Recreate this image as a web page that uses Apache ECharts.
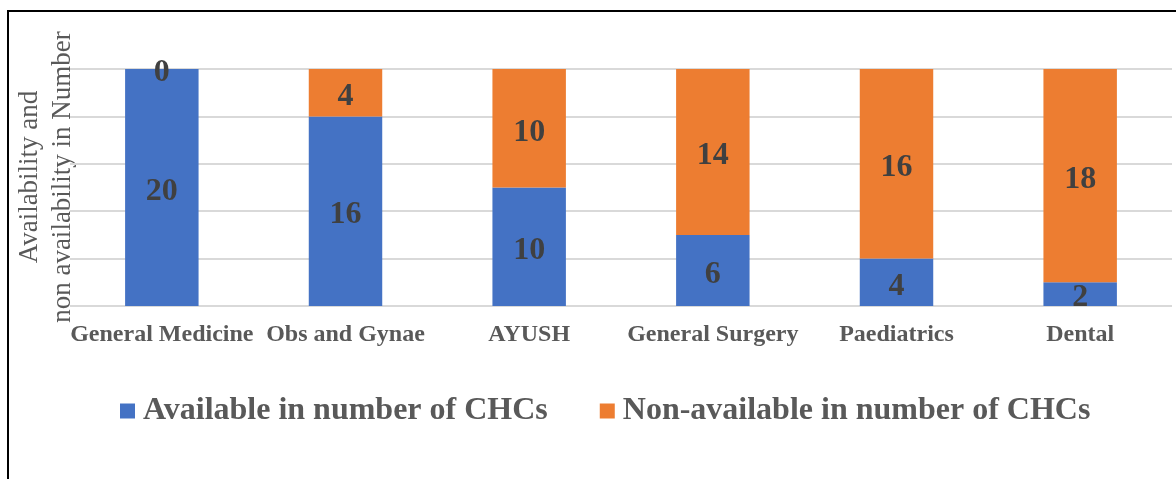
<!DOCTYPE html>
<html>
<head>
<meta charset="utf-8">
<script src="https://cdn.jsdelivr.net/npm/echarts@6/dist/echarts.min.js"></script>
<style>
  html, body { margin: 0; padding: 0; background: #fff; }
  #main { width: 1176px; height: 479px; }
</style>
</head>
<body>
<div id="main"></div>
<script>
const categories = ['General Medicine', 'Obs and Gynae', 'AYUSH', 'General Surgery', 'Paediatrics', 'Dental'];
const available = [20, 16, 10, 6, 4, 2];
const nonAvailable = [0, 4, 10, 14, 16, 18];
const seriesNames = ['Available in number of CHCs', 'Non-available in number of CHCs'];

const chart = echarts.init(document.getElementById('main'));
const serif = '"Liberation Serif", "Times New Roman", serif';

const labelStyle = {
  show: true,
  position: 'inside',
  offset: [0, 4],
  fontFamily: serif,
  fontWeight: 'bold',
  fontSize: 32,
  color: '#404040'
};

chart.setOption({
  animation: false,
  backgroundColor: '#fff',
  graphic: [
    {
      type: 'rect',
      shape: { x: 8, y: 11, width: 1300, height: 600 },
      style: { fill: 'none', stroke: '#000', lineWidth: 2 },
      silent: true
    },
    {
      type: 'text',
      x: 46, y: 177,
      rotation: Math.PI / 2,
      style: {
        text: 'Availability and\nnon availability in Number',
        fontFamily: serif,
        fontSize: 27,
        lineHeight: 33,
        fill: '#595959',
        align: 'center',
        verticalAlign: 'middle'
      }
    }
  ],
  legend: {
    top: 390,
    left: 115,
    itemWidth: 15,
    itemHeight: 15,
    itemGap: 52,
    icon: 'rect',
    textStyle: {
      fontFamily: serif,
      fontWeight: 'bold',
      fontSize: 32,
      color: '#595959',
      padding: [0, 0, 0, 3]
    },
    data: seriesNames
  },
  grid: {
    left: 70,
    right: 4,
    top: 69,
    bottom: 173,
    containLabel: false
  },
  xAxis: {
    type: 'category',
    data: categories,
    axisLine: { show: false },
    axisTick: { show: false },
    axisLabel: {
      interval: 0,
      margin: 17,
      fontFamily: serif,
      fontWeight: 'bold',
      fontSize: 24,
      color: '#595959'
    }
  },
  yAxis: {
    type: 'value',
    min: 0,
    max: 20,
    interval: 4,
    axisLabel: { show: false },
    axisLine: { show: false },
    axisTick: { show: false },
    splitLine: { lineStyle: { color: '#D9D9D9', width: 2 } }
  },
  series: [
    {
      name: seriesNames[0],
      type: 'bar',
      stack: 'total',
      barWidth: '40%',
      itemStyle: { color: '#4472C4' },
      label: labelStyle,
      data: available
    },
    {
      name: seriesNames[1],
      type: 'bar',
      stack: 'total',
      barWidth: '40%',
      itemStyle: { color: '#ED7D31' },
      label: labelStyle,
      data: nonAvailable
    }
  ]
});
</script>
</body>
</html>
